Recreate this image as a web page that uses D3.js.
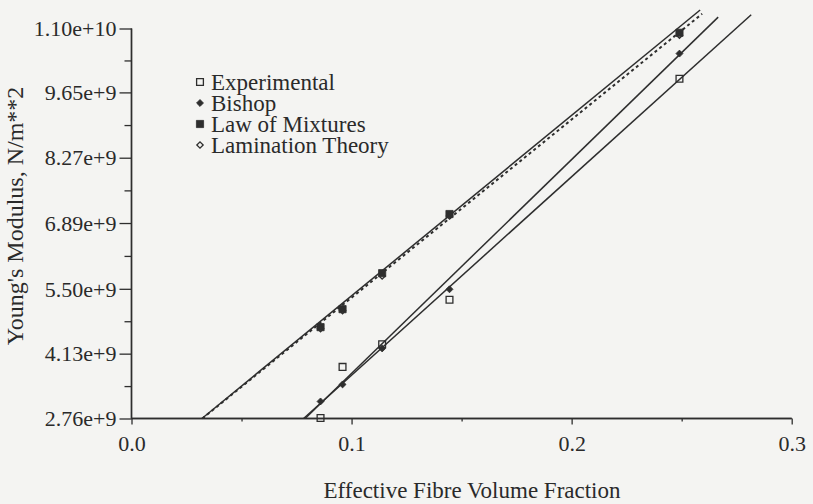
<!DOCTYPE html>
<html><head><meta charset="utf-8">
<script src="https://cdn.jsdelivr.net/npm/d3@7"></script>
<style>
body{margin:0;background:#f4f4f2;}
svg{display:block;}
text{font-family:"Liberation Serif","Times New Roman",serif;fill:#2a2a2a;}
</style>
</head><body>
<svg id="c" width="813" height="504"></svg>
<script>
// ---- data ----
const fibreFraction    = [0.0859, 0.0959, 0.1139, 0.1445, 0.2490];
const experimental     = [2.77e9, 3.85e9, 4.33e9, 5.27e9, 9.94e9];
const bishop           = [3.12e9, 3.48e9, 4.24e9, 5.49e9, 10.47e9];
const lawOfMixtures    = [4.69e9, 5.07e9, 5.83e9, 7.08e9, 10.91e9];
const laminationTheory = [4.66e9, 5.04e9, 5.77e9, 7.04e9, 10.86e9];
// fitted straight lines: [start, end] as [fraction, modulus]
const fitExperimental = [[0.0782, 2.76e9], [0.2816, 11.29e9]];
const fitBishop       = [[0.0789, 2.76e9], [0.2666, 11.24e9]];
const fitLaw          = [[0.0320, 2.76e9], [0.2584, 11.39e9]];
const fitLamination   = [[0.0322, 2.76e9], [0.2593, 11.31e9]];
const yTicks      = [2.76e9, 4.13e9, 5.50e9, 6.89e9, 8.27e9, 9.65e9, 1.10e10];
const yTickLabels = ["2.76e+9","4.13e+9","5.50e+9","6.89e+9","8.27e+9","9.65e+9","1.10e+10"];
const xTicks      = [0, 0.1, 0.2, 0.3];
const xMinorTicks = [0.05, 0.15, 0.25];
const xTickLabels = ["0.0","0.1","0.2","0.3"];
const legendLabels = ["Experimental","Bishop","Law of Mixtures","Lamination Theory"];

// ---- layout ----
const ink = "#2e2e2e";
const svg = d3.select("#c");
const x = d3.scaleLinear().domain([0, 0.3]).range([131.5, 791.7]);
const y = d3.scaleLinear().domain([2.76e9, 1.10e10]).range([418.5, 28.5]);

// axes
const gx = svg.append("g").attr("transform", `translate(0,${y(2.76e9)})`);
gx.call(d3.axisBottom(x).tickValues(xTicks).tickSize(6).tickFormat((d,i)=>xTickLabels[i]));
gx.append("g").call(d3.axisBottom(x).tickValues(xMinorTicks).tickSize(3).tickFormat(""));
gx.selectAll(".domain").attr("stroke", ink).attr("stroke-width", 1.4).attr("d", `M${x(0)},0H${x(0.3)}`);
gx.selectAll(".tick line").attr("stroke", ink).attr("stroke-width", 1.3);
gx.selectAll(".tick text").attr("font-size", 22).attr("font-family","Liberation Serif").attr("fill","#2a2a2a").attr("y", 17).attr("dy","0.71em");

const gy = svg.append("g").attr("transform", `translate(${x(0)},0)`);
gy.call(d3.axisLeft(y).tickValues(yTicks).tickSize(12).tickPadding(3).tickFormat((d,i)=>yTickLabels[i]));
const yMinor = d3.pairs(yTicks).map(p => (p[0]+p[1])/2);
gy.append("g").call(d3.axisLeft(y).tickValues(yMinor).tickSize(7).tickFormat(""));
gy.selectAll(".domain").attr("stroke", ink).attr("stroke-width", 1.4).attr("d", `M0,${y(2.76e9)}V${y(1.10e10)}`);
gy.selectAll(".tick line").attr("stroke", ink).attr("stroke-width", 1.3);
gy.selectAll(".tick text").attr("font-size", 22).attr("font-family","Liberation Serif").attr("fill","#2a2a2a").attr("dy","0.33em");

// axis titles
svg.append("text").attr("x", 472).attr("y", 498).attr("text-anchor","middle")
  .attr("font-size", 23).text("Effective Fibre Volume Fraction");
svg.append("text").attr("transform","translate(23,216) rotate(-90)").attr("text-anchor","middle")
  .attr("font-size", 24).text("Young's Modulus, N/m**2");

// fitted lines
const line = d3.line().x(d => x(d[0])).y(d => y(d[1]));
[fitExperimental, fitBishop, fitLaw].forEach(f => {
  svg.append("path").attr("d", line(f)).attr("fill","none").attr("stroke", ink).attr("stroke-width", 1.5);
});
svg.append("path").attr("d", line(fitLamination)).attr("fill","none").attr("stroke", ink)
  .attr("stroke-width", 2).attr("stroke-dasharray","3,3");

// markers
const sq = d3.symbol().type(d3.symbolSquare).size(52)();
const sqOpen = d3.symbol().type(d3.symbolSquare).size(46)();
const dia = d3.symbol().type(d3.symbolSquare).size(24)();
const diaOpen = d3.symbol().type(d3.symbolSquare).size(20)();

function marks(vals, path, filled, rot) {
  svg.append("g").selectAll("path").data(vals).join("path")
    .attr("d", path)
    .attr("transform", (d,i) => `translate(${x(fibreFraction[i])},${y(d)}) rotate(${rot})`)
    .attr("fill", filled ? ink : "#f4f4f2")
    .attr("fill-opacity", filled ? 1 : 0)
    .attr("stroke", ink).attr("stroke-width", filled ? 0.8 : 1.3);
}
marks(lawOfMixtures, sq, true, 0);
marks(laminationTheory, diaOpen, false, 45);
marks(bishop, dia, true, 45);
marks(experimental, sqOpen, false, 0);

// legend
const legendY = [82, 103, 124, 145];
const lg = svg.append("g");
const legendSyms = [[sqOpen,false,0],[dia,true,45],[sq,true,0],[diaOpen,false,45]];
legendLabels.forEach((lab, i) => {
  const s = legendSyms[i];
  lg.append("path").attr("d", s[0]).attr("transform", `translate(200,${legendY[i]}) rotate(${s[2]})`)
    .attr("fill", s[1] ? ink : "none").attr("stroke", ink).attr("stroke-width", s[1] ? 0.8 : 1.3);
  lg.append("text").attr("x", 211).attr("y", legendY[i] + 8).attr("font-size", 23).text(lab);
});
</script>
</body></html>
